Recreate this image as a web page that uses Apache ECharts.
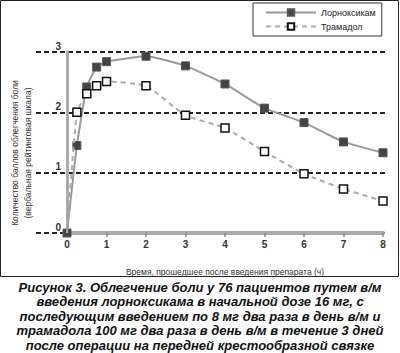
<!DOCTYPE html>
<html><head><meta charset="utf-8">
<script src="https://cdn.jsdelivr.net/npm/echarts@6/dist/echarts.min.js"></script>
<style>html,body{margin:0;padding:0;background:#fff}#c{width:400px;height:353px}</style>
</head><body><div id="c"></div>
<script>
var hours = [0, 0.25, 0.5, 0.75, 1, 2, 3, 4, 5, 6, 7, 8];
var lornoxicam = [0, 1.45, 2.42, 2.75, 2.84, 2.93, 2.77, 2.47, 2.07, 1.83, 1.51, 1.33];
var tramadol = [0, 2.0, 2.31, 2.44, 2.51, 2.44, 1.95, 1.74, 1.35, 0.98, 0.73, 0.53];
var seriesNames = ['Лорноксикам', 'Трамадол'];
var yTitle = ['Количество баллов облегчения боли', '(вербальная рейтинговая шкала)'];
var xTitle = 'Время, прошедшее после введения препарата (ч)';
var caption = ['Рисунок 3. Облегчение боли у 76 пациентов путем в/м',
  'введения лорноксикама в начальной дозе 16 мг, с',
  'последующим введением по 8 мг два раза в день в/м и',
  'трамадола 100 мг два раза в день в/м в течение 3 дней',
  'после операции на передней крестообразной связке'];

function pairs(xs, ys, hideFirst){
  return xs.map(function(x,i){
    var item = {value:[x, ys[i]]};
    if (hideFirst && i === 0) item.symbol = 'none';
    return item;
  });
}

var chart = echarts.init(document.getElementById('c'), null, {renderer:'svg'});
var font = 'Liberation Sans, Arial, sans-serif';
chart.setOption({
  animation:false,
  backgroundColor:'#fff',
  title:{
    text: caption.join('\n'), left:'center', top:280, padding:0,
    textStyle:{fontFamily:font, fontSize:13, fontWeight:'bold', fontStyle:'italic', color:'#111', lineHeight:14.5}
  },
  legend:{
    orient:'vertical', left:253, top:3, width:140,
    padding:[5,6,5,12], itemGap:5,
    borderColor:'#333', borderWidth:1, backgroundColor:'#fff',
    itemWidth:50, itemHeight:8,
    textStyle:{fontFamily:font, fontSize:9, color:'#222'},
    data: seriesNames
  },
  grid:[
    {left:36, right:15, top:52, bottom:120},
    {left:67, right:17, top:52, bottom:120}
  ],
  xAxis:[
    {gridIndex:0, type:'value', min:0, max:1, show:false},
    {gridIndex:1, type:'value', min:0, max:8, interval:1,
     axisLine:{show:true, lineStyle:{color:'#aaa', width:4}},
     axisTick:{show:true, length:4, lineStyle:{color:'#888', width:1.5}},
     axisLabel:{fontFamily:font, fontSize:10, fontWeight:'bold', color:'#333', margin:6},
     splitLine:{show:false},
     name:xTitle, nameLocation:'middle', nameGap:34,
     nameTextStyle:{fontFamily:font, fontSize:8.5, color:'#333'}}
  ],
  yAxis:[
    {gridIndex:0, type:'value', min:0, max:3, interval:1,
     axisLine:{show:false}, axisTick:{show:false}, axisLabel:{show:false},
     splitLine:{show:true, lineStyle:{color:'#222', width:2, type:[5,3]}}},
    {gridIndex:1, type:'value', min:0, max:3, interval:1,
     axisLine:{show:true, lineStyle:{color:'#aaa', width:3}},
     axisTick:{show:false},
     axisLabel:{fontFamily:font, fontSize:10, fontWeight:'bold', color:'#333', margin:6, verticalAlign:'bottom', lineHeight:12},
     splitLine:{show:false}}
  ],
  graphic:[
    {type:'rect', shape:{x:0.5, y:0.5, width:398, height:276}, style:{fill:'none', stroke:'#222', lineWidth:1}, silent:true, z:-10},
    {type:'text', x:21, y:153, rotation:Math.PI/2,
     style:{text:yTitle.join('\n'), fontFamily:font, fontSize:8.5, fill:'#333', textAlign:'center', textVerticalAlign:'middle', lineHeight:13}}
  ],
  series:[
    {name:seriesNames[0], type:'line', xAxisIndex:1, yAxisIndex:1, z:3,
     data:pairs(hours, lornoxicam, false), smooth:0.15,
     symbol:'rect', symbolSize:8,
     lineStyle:{color:'#999', width:2},
     itemStyle:{color:'#444', borderColor:'#555', borderWidth:1}},
    {name:seriesNames[1], type:'line', xAxisIndex:1, yAxisIndex:1, z:4,
     data:pairs(hours, tramadol, true), smooth:0.15,
     symbol:'rect', symbolSize:8,
     lineStyle:{color:'#aaa', width:2, type:[5,4]},
     itemStyle:{color:'#fff', borderColor:'#111', borderWidth:1.5}}
  ]
});
</script></body></html>
